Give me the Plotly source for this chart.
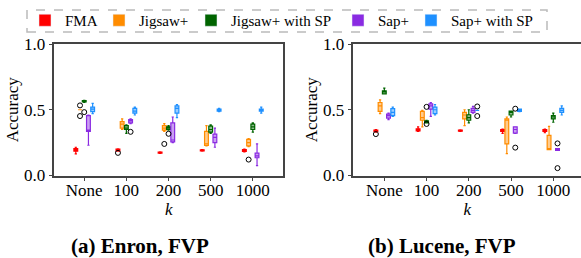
import plotly.graph_objects as go

# ---------------- data ----------------
K_LABELS = ["None", "100", "200", "500", "1000"]
METHODS = ["FMA", "Jigsaw+", "Jigsaw+ with SP", "Sap+", "Sap+ with SP"]
COLORS = ["#ff0000", "#ff8c00", "#006400", "#8a2be2", "#1e90ff"]

# each entry per k: (lower whisker, q1, median, q3, upper whisker)
ENRON_FMA = [(0.165, 0.185, 0.195, 0.205, 0.215), (0.185, 0.188, 0.195, 0.200, 0.202),
             (0.168, 0.170, 0.173, 0.177, 0.180), (0.185, 0.187, 0.190, 0.195, 0.197),
             (0.180, 0.183, 0.190, 0.197, 0.200)]
ENRON_JIG = [(0.500, 0.500, 0.500, 0.500, 0.500), (0.350, 0.360, 0.390, 0.410, 0.430),
             (0.335, 0.345, 0.360, 0.380, 0.395), (0.225, 0.228, 0.240, 0.335, 0.380),
             (0.220, 0.225, 0.250, 0.275, 0.280)]
ENRON_JIGSP = [(0.555, 0.560, 0.565, 0.570, 0.572), (0.320, 0.350, 0.360, 0.380, 0.385),
               (0.345, 0.350, 0.360, 0.370, 0.380), (0.320, 0.330, 0.350, 0.375, 0.385),
               (0.330, 0.350, 0.370, 0.390, 0.400)]
ENRON_SAP = [(0.230, 0.335, 0.345, 0.455, 0.460), (0.395, 0.400, 0.415, 0.425, 0.430),
             (0.250, 0.255, 0.270, 0.400, 0.445), (0.215, 0.250, 0.290, 0.315, 0.360),
             (0.075, 0.135, 0.150, 0.170, 0.240)]
ENRON_SAPSP = [(0.470, 0.485, 0.505, 0.520, 0.548), (0.460, 0.475, 0.490, 0.510, 0.520),
               (0.440, 0.475, 0.510, 0.530, 0.540), (0.485, 0.490, 0.500, 0.505, 0.510),
               (0.475, 0.490, 0.500, 0.505, 0.520)]
# outliers: (k label, method, value)
ENRON_OUTLIERS = [("None", "Jigsaw+", 0.533), ("None", "Jigsaw+", 0.452),
                  ("None", "Jigsaw+ with SP", 0.482), ("100", "FMA", 0.172),
                  ("100", "Sap+", 0.332), ("200", "Jigsaw+", 0.240),
                  ("200", "Jigsaw+ with SP", 0.317), ("1000", "Jigsaw+", 0.121)]

LUCENE_FMA = [(0.330, 0.335, 0.340, 0.345, 0.350), (0.335, 0.340, 0.348, 0.355, 0.370),
              (0.335, 0.337, 0.340, 0.345, 0.347), (0.320, 0.335, 0.343, 0.350, 0.352),
              (0.325, 0.335, 0.345, 0.350, 0.352)]
LUCENE_JIG = [(0.470, 0.487, 0.530, 0.555, 0.575), (0.370, 0.420, 0.440, 0.487, 0.495),
              (0.380, 0.430, 0.460, 0.480, 0.500), (0.167, 0.240, 0.420, 0.430, 0.445),
              (0.197, 0.197, 0.200, 0.305, 0.373)]
LUCENE_JIGSP = [(0.620, 0.620, 0.635, 0.644, 0.665), (0.400, 0.400, 0.405, 0.415, 0.420),
                (0.400, 0.420, 0.440, 0.462, 0.500), (0.445, 0.460, 0.480, 0.490, 0.490),
                (0.405, 0.430, 0.445, 0.455, 0.475)]
LUCENE_SAP = [(0.425, 0.437, 0.455, 0.467, 0.475), (0.450, 0.505, 0.530, 0.545, 0.555),
              (0.475, 0.480, 0.495, 0.510, 0.525), (0.320, 0.323, 0.350, 0.370, 0.370),
              (0.190, 0.190, 0.197, 0.205, 0.205)]
LUCENE_SAPSP = [(0.450, 0.455, 0.480, 0.508, 0.520), (0.460, 0.470, 0.500, 0.520, 0.540),
                (0.495, 0.495, 0.495, 0.495, 0.495), (0.485, 0.487, 0.495, 0.505, 0.505),
                (0.460, 0.480, 0.495, 0.510, 0.530)]
LUCENE_OUTLIERS = [("None", "FMA", 0.315), ("100", "Jigsaw+ with SP", 0.522),
                   ("100", "Jigsaw+ with SP", 0.392), ("200", "Sap+ with SP", 0.525),
                   ("200", "Sap+ with SP", 0.452), ("500", "Sap+", 0.508),
                   ("500", "Sap+", 0.212), ("1000", "Sap+", 0.244), ("1000", "Sap+", 0.056)]

Y_TICKS = [0.0, 0.5, 1.0]
Y_TICK_TEXT = ["0.0", "0.5", "1.0"]
TITLES = ["(a) Enron, FVP", "(b) Lucene, FVP"]

# ---------------- figure ----------------
OFFSETS = [-0.2, -0.1, 0.0, 0.1, 0.2]
BOX_W = 0.09
FONT = "Liberation Serif"
AXCOL = "#444444"
W, H = 581, 258
LEGEND_SQUARE_X = [38, 112, 204, 351, 424]   # px of legend swatches


def rgba(hexc, a):
    h = hexc.lstrip("#")
    r, g, b = int(h[0:2], 16), int(h[2:4], 16), int(h[4:6], 16)
    return f"rgba({r},{g},{b},{a})"


fig = go.Figure()

panels = [
    ("x", "y", [ENRON_FMA, ENRON_JIG, ENRON_JIGSP, ENRON_SAP, ENRON_SAPSP], ENRON_OUTLIERS),
    ("x2", "y2", [LUCENE_FMA, LUCENE_JIG, LUCENE_JIGSP, LUCENE_SAP, LUCENE_SAPSP], LUCENE_OUTLIERS),
]

for xa, ya, series, outliers in panels:
    for m, (stats, col) in enumerate(zip(series, COLORS)):
        xs = [i + OFFSETS[m] for i in range(len(K_LABELS))]
        fig.add_trace(go.Box(
            x=xs,
            lowerfence=[s[0] for s in stats],
            q1=[s[1] for s in stats],
            median=[s[2] for s in stats],
            q3=[s[3] for s in stats],
            upperfence=[s[4] for s in stats],
            width=BOX_W, whiskerwidth=0.6,
            boxpoints=False,
            fillcolor=rgba(col, 0.45),
            line=dict(color=col, width=1.2),
            showlegend=False, hoverinfo="skip",
            xaxis=xa, yaxis=ya,
        ))
    ox = [K_LABELS.index(k) + OFFSETS[METHODS.index(m)] for k, m, v in outliers]
    oy = [v for k, m, v in outliers]
    fig.add_trace(go.Scatter(
        x=ox, y=oy, mode="markers",
        marker=dict(symbol="circle-open", size=5, color="black", line=dict(width=1)),
        showlegend=False, hoverinfo="skip", xaxis=xa, yaxis=ya,
    ))

# legend entries, one legend per item so each can be placed exactly
legend_layout = {}
for i, (name, col) in enumerate(zip(METHODS, COLORS)):
    lname = "legend" if i == 0 else f"legend{i + 1}"
    fig.add_trace(go.Bar(x=[None], y=[None], name=name, marker=dict(color=col),
                         xaxis="x", yaxis="y", legend=lname))
    legend_layout[lname] = dict(
        x=(LEGEND_SQUARE_X[i] - 13) / W, xanchor="left", y=1 - 20.5 / H, yanchor="middle",
        font=dict(family=FONT, size=15, color="black"),
        bgcolor="rgba(0,0,0,0)", borderwidth=0, orientation="h",
    )

ax_common = dict(showgrid=False, zeroline=False, showline=True, linecolor=AXCOL,
                 linewidth=1.5, ticks="outside", ticklen=4, tickcolor=AXCOL,
                 automargin=False,
                 tickfont=dict(family=FONT, size=17, color="black"))

xcommon = dict(ax_common, tickmode="array", tickvals=list(range(len(K_LABELS))),
               ticktext=K_LABELS, mirror=True, ticklabelstandoff=-6,
               title=dict(text="<i>k</i>", font=dict(family=FONT, size=17, color="black"),
                          standoff=4))
ycommon = dict(ax_common, range=[0, 1.0], tickmode="array", tickvals=Y_TICKS,
               ticktext=Y_TICK_TEXT,
               title=dict(text="Accuracy", font=dict(family=FONT, size=17, color="black"),
                          standoff=1))

fig.update_layout(
    width=W, height=H,
    margin=dict(l=0, r=0, t=0, b=0, autoexpand=False),
    paper_bgcolor="white", plot_bgcolor="white",
    xaxis=dict(xcommon, domain=[54.3 / W, 283 / W], range=[-0.71, 4.716]),
    yaxis=dict(ycommon, domain=[1 - 175.5 / H, 1 - 44 / H], mirror=True),
    xaxis2=dict(xcommon, domain=[353.3 / W, 1.0], range=[-0.734, 4.656], anchor="y2"),
    yaxis2=dict(ycommon, domain=[1 - 175.5 / H, 1 - 44 / H], anchor="x2", mirror=False),
    shapes=[dict(type="rect", xref="paper", yref="paper",
                 x0=27 / W, x1=547 / W, y0=1 - 32 / H, y1=1 - 10 / H,
                 line=dict(color="#bbbbbb", width=1.5, dash="dash"))],
    annotations=[
        dict(text=f"<b>{TITLES[0]}</b>", x=140 / W, y=1 - 246 / H, xref="paper",
             yref="paper", xanchor="center", yanchor="middle", showarrow=False,
             font=dict(family=FONT, size=21, color="black")),
        dict(text=f"<b>{TITLES[1]}</b>", x=442 / W, y=1 - 246 / H, xref="paper",
             yref="paper", xanchor="center", yanchor="middle", showarrow=False,
             font=dict(family=FONT, size=21, color="black")),
    ],
    **legend_layout,
)

fig.write_html("out.html", config={"displayModeBar": False},
               post_script="document.body.style.margin='0';document.body.style.overflow='hidden';")
